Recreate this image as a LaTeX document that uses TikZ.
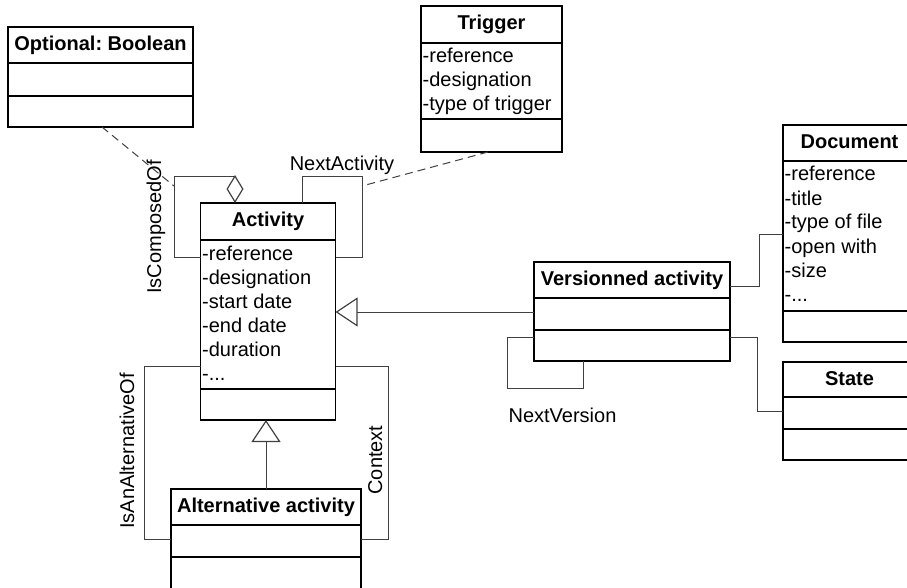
\documentclass[tikz,border=0pt]{standalone}
\usepackage{fontspec}
\setmainfont{Liberation Sans}
\usetikzlibrary{arrows.meta}
\frenchspacing
\tikzset{
  classbox/.style={draw=black, line width=1.4pt, inner sep=0pt, outer sep=0pt, anchor=north west},
  classline/.style={draw=black, line width=1.4pt},
  titletext/.style={font=\fontsize{20}{24}\selectfont\bfseries, anchor=base, inner sep=0pt},
  attrtext/.style={font=\fontsize{20}{24}\selectfont, anchor=base west, inner sep=0pt},
  labeltext/.style={font=\fontsize{20}{24}\selectfont, anchor=base, inner sep=0pt},
  conn/.style={draw=black!75, line width=1pt},
  dashconn/.style={draw=black!75, line width=1pt, dash pattern=on 8pt off 5pt},
  gen/.style={-{Triangle[open, length=22pt, width=29pt, line width=1.2pt]}},
  agg/.style={-{Diamond[open, length=28pt, width=17pt, line width=1.2pt]}},
}
\def\mytdots{...}
\newcommand\umlclass[8]{%
  \node[classbox, minimum width={#4-#2}, minimum height={#5-#3}] (#1) at (#2,#3) {};
  \draw[classline] (#2,#6) -- (#4,#6);
  \draw[classline] (#2,#7) -- (#4,#7);
  \node[titletext] (#1-title) at ({(#2+#4)/2},#3+23.5) {#8};
}
\newcommand\umlattrs[4]{%
  \foreach \t [count=\i from 0] in {#4} {\node[attrtext] (#1-a\i) at (#2+1.5,#3+20+24*\i) {\t};}
}
\begin{document}
\begin{tikzpicture}[x=1pt, y=-1pt]
\useasboundingbox (0,0) rectangle (907,588);

% classes
\umlclass{opt}{8}{27}{193}{127}{63}{96}{Optional: Boolean}
\umlclass{trig}{421}{6}{562}{152}{43}{119}{Trigger}
\umlattrs{trig}{421}{43}{-reference,-designation,-type of trigger}
\umlclass{act}{200.5}{203}{335.5}{420}{240}{389}{Activity}
\umlattrs{act}{200.5}{240}{-reference,-designation,-start date,-end date,-duration,-\mytdots}
\umlclass{ver}{534}{262}{730}{361}{298}{330}{Versionned activity}
\umlclass{doc}{783}{125}{916}{342}{161}{311}{Document}
\umlattrs{doc}{783}{161}{-reference,-title,-type of file,-open with,-size,-\mytdots}
\umlclass{state}{783}{362}{916}{460}{397}{429}{State}
\umlclass{alt}{171}{489}{361}{596}{525}{557}{Alternative activity}

% loop corner coordinates
\coordinate (cComp) at (174,177);
\coordinate (cCompD) at (174,186);
\coordinate (cNext) at (362,177);
\coordinate (cNextD) at (362,186);
\coordinate (cAlt) at (144,539);
\coordinate (cCtx) at (388,539);
\coordinate (cVer) at (507,388);
\coordinate (cDoc) at (759,234);
\coordinate (cState) at (757,411);

% IsComposedOf (aggregation loop)
\draw[conn, agg] (act.west |- 0,257) -| (cComp) -| ([xshift=34.5pt]act.north west);
\node[labeltext, rotate=90] (lComp) at (161,227) {IsComposedOf};
\draw[dashconn] ([xshift=94pt]opt.south west) -- (cCompD);

% NextActivity loop
\draw[conn] ([xshift=101.5pt]act.north west) |- (cNext) |- (act.east |- 0,257);
\node[labeltext] (lNext) at (342,170.5) {NextActivity};
\draw[dashconn] ([xshift=67pt]trig.south west) -- (cNextD);

% IsAnAlternativeOf and Context loops
\draw[conn] (act.west |- 0,366) -| (cAlt) -- (alt.west |- cAlt);
\node[labeltext, rotate=90] (lAlt) at (134,451) {IsAnAlternativeOf};
\draw[conn] (act.east |- 0,366) -| (cCtx) -- (alt.east |- cCtx);
\node[labeltext, rotate=90] (lCtx) at (382,460) {Context};

% generalizations
\draw[conn, gen] (alt.north) -- (alt.north |- act.south);
\draw[conn, gen] (ver.west |- 0,312) -- (act.east |- 0,312);

% NextVersion loop
\draw[conn] (ver.west |- 0,337) -| (cVer) -| ([xshift=49pt]ver.south west);
\node[labeltext] (lVer) at (562.5,422) {NextVersion};

% Versionned activity to Document and State
\draw[conn] (ver.east |- 0,286) -| (cDoc) -- (doc.west |- cDoc);
\draw[conn] (ver.east |- 0,337) -| (cState) -- (state.west |- cState);
\end{tikzpicture}
\end{document}
